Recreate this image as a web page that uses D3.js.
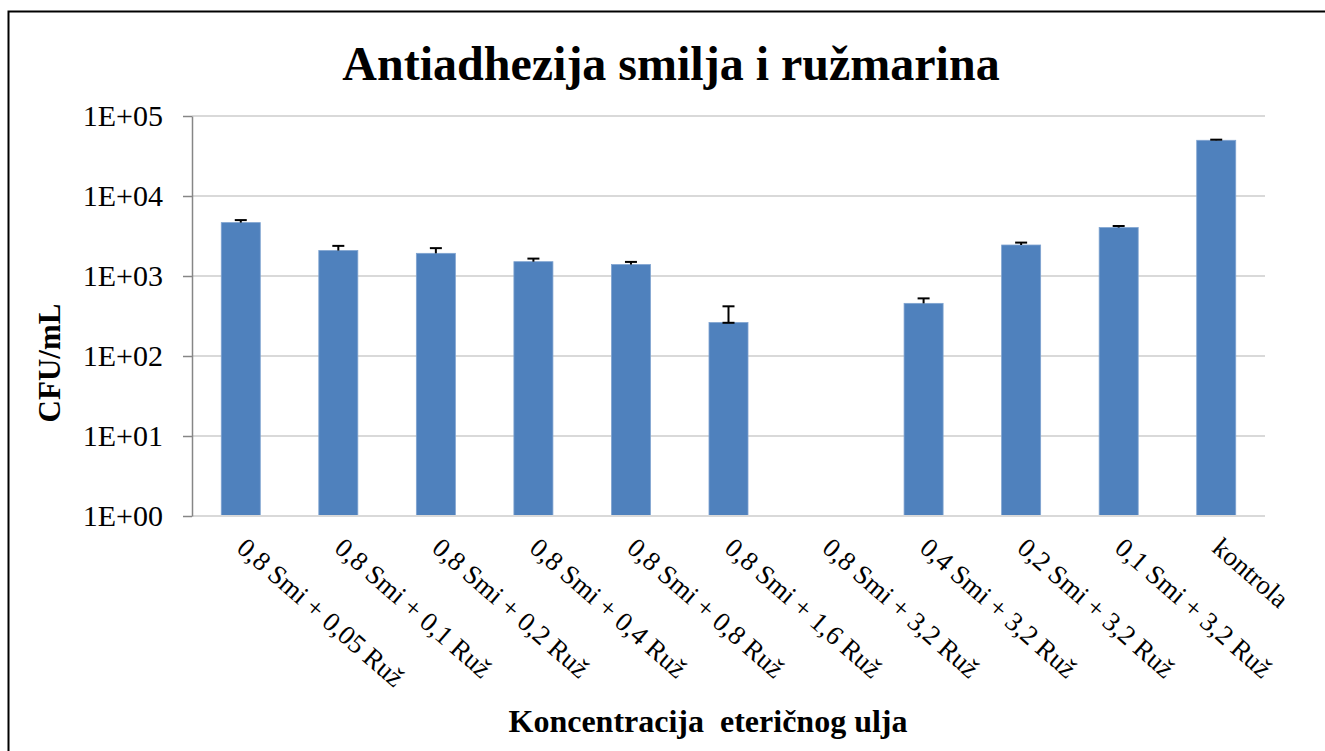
<!DOCTYPE html>
<html>
<head>
<meta charset="utf-8">
<script src="https://cdn.jsdelivr.net/npm/d3@7"></script>
<style>
  body { margin: 0; background: #fff; }
  svg text { font-family: "Liberation Serif", "Times New Roman", serif; fill: #000; }
</style>
</head>
<body>
<div id="chart"></div>
<script>
/******* Data ******/
const categories = [
  "0,8 Smi + 0,05 Ruž", "0,8 Smi + 0,1 Ruž", "0,8 Smi + 0,2 Ruž", "0,8 Smi + 0,4 Ruž",
  "0,8 Smi + 0,8 Ruž", "0,8 Smi + 1,6 Ruž", "0,8 Smi + 3,2 Ruž", "0,4 Smi + 3,2 Ruž",
  "0,2 Smi + 3,2 Ruž", "0,1 Smi + 3,2 Ruž", "kontrola"
];
// CFU/mL (0 = no growth, not drawn on log axis)
const cfuValues = [4650, 2080, 1920, 1510, 1390, 262, 0, 455, 2440, 4030, 49700];
const errPlus   = [350, 300, 310, 140, 110, 156, 0, 70, 175, 190, 900];
const errMinus  = [0, 0, 0, 0, 0, 2, 0, 0, 0, 0, 0];
const yTicks    = [1, 10, 100, 1000, 10000, 100000];
const yTickLabels = ["1E+00", "1E+01", "1E+02", "1E+03", "1E+04", "1E+05"];

const data = categories.map((c, i) => ({
  cat: c, value: cfuValues[i], plus: errPlus[i], minus: errMinus[i]
}));

/******* Layout ******/
const svgW = 1325;
const svgH = 751;
const plot = { left: 192, right: 1265, top: 116, bottom: 516 };
const serif = '"Liberation Serif", "Times New Roman", serif';

const svg = d3.select("#chart")
  .append("svg")
  .attr("width", svgW)
  .attr("height", svgH);

// outer chart border (runs off the right and bottom edge)
svg.append("rect")
  .attr("x", 8.5).attr("y", 11.5)
  .attr("width", 1340).attr("height", 780)
  .attr("fill", "none")
  .attr("stroke", "#000")
  .attr("stroke-width", 2);

// Scales
const x = d3.scaleBand()
  .domain(categories)
  .range([plot.left, plot.right])
  .paddingInner(0.6)
  .paddingOuter(0.3);

const y = d3.scaleLog()
  .domain([1, 100000])
  .range([plot.bottom, plot.top]);

// Gridlines
svg.append("g")
  .selectAll("line")
  .data(yTicks)
  .enter()
  .append("line")
  .attr("x1", plot.left).attr("x2", plot.right)
  .attr("y1", d => y(d)).attr("y2", d => y(d))
  .attr("stroke", "#d9d9d9")
  .attr("stroke-width", 2);

// Bars
svg.append("g")
  .selectAll("rect")
  .data(data.filter(d => d.value > 0))
  .enter()
  .append("rect")
  .attr("x", d => x(d.cat))
  .attr("y", d => y(d.value))
  .attr("width", x.bandwidth())
  .attr("height", d => plot.bottom - y(d.value))
  .attr("fill", "#4f81bd")
  .attr("stroke", "#7fa3d0")
  .attr("stroke-width", 0.8);

// Error bars
const errG = svg.append("g")
  .attr("stroke", "#000")
  .attr("stroke-width", 2);
const capW = 6;
data.filter(d => d.value > 0).forEach(d => {
  const cx = x(d.cat) + x.bandwidth() / 2;
  const yTop = y(d.value + d.plus);
  const yLow = y(d.value - d.minus);
  errG.append("line")
    .attr("x1", cx).attr("x2", cx)
    .attr("y1", yTop).attr("y2", yLow);
  errG.append("line")
    .attr("x1", cx - capW).attr("x2", cx + capW)
    .attr("y1", yTop).attr("y2", yTop);
  if (d.minus > 0) {
    errG.append("line")
      .attr("x1", cx - capW).attr("x2", cx + capW)
      .attr("y1", yLow).attr("y2", yLow);
  }
});

// X axis line
svg.append("line")
  .attr("x1", plot.left).attr("x2", plot.right)
  .attr("y1", plot.bottom).attr("y2", plot.bottom)
  .attr("stroke", "#d9d9d9")
  .attr("stroke-width", 2);

// Y axis
const leftAxis = d3.axisLeft(y)
  .tickValues(yTicks)
  .tickFormat((d, i) => yTickLabels[i])
  .tickSize(9)
  .tickSizeOuter(0)
  .tickPadding(20);

const yAxis = svg.append("g")
  .attr("transform", `translate(${plot.left}, 0)`)
  .call(leftAxis);
yAxis.select(".domain").attr("stroke", "#868686").attr("stroke-width", 1.5);
yAxis.selectAll(".tick line").attr("stroke", "#868686").attr("stroke-width", 1.5);
yAxis.selectAll(".tick text")
  .style("font-family", serif)
  .style("font-size", "30px")
  .attr("fill", "#000");

// Category labels, rotated
svg.append("g")
  .selectAll("text")
  .data(categories)
  .enter()
  .append("text")
  .attr("transform", d => `translate(${x(d) + x.bandwidth() / 2 + 7}, ${plot.bottom + 20}) rotate(41)`)
  .attr("text-anchor", "start")
  .attr("dy", "0.7em")
  .style("font-family", serif)
  .style("font-size", "27px")
  .text(d => d);

// Title
svg.append("text")
  .attr("x", 671)
  .attr("y", 80)
  .attr("text-anchor", "middle")
  .style("font-family", serif)
  .style("font-size", "48px")
  .style("font-weight", "bold")
  .text("Antiadhezija smilja i ružmarina");

// Y axis title
svg.append("text")
  .attr("transform", "translate(60, 363) rotate(-90)")
  .attr("text-anchor", "middle")
  .style("font-family", serif)
  .style("font-size", "31px")
  .style("font-weight", "bold")
  .text("CFU/mL");

// X axis title
svg.append("text")
  .attr("x", 708)
  .attr("y", 732)
  .attr("text-anchor", "middle")
  .style("font-family", serif)
  .style("font-size", "32px")
  .style("font-weight", "bold")
  .style("white-space", "pre")
  .text("Koncentracija  eteričnog ulja");
</script>
</body>
</html>
